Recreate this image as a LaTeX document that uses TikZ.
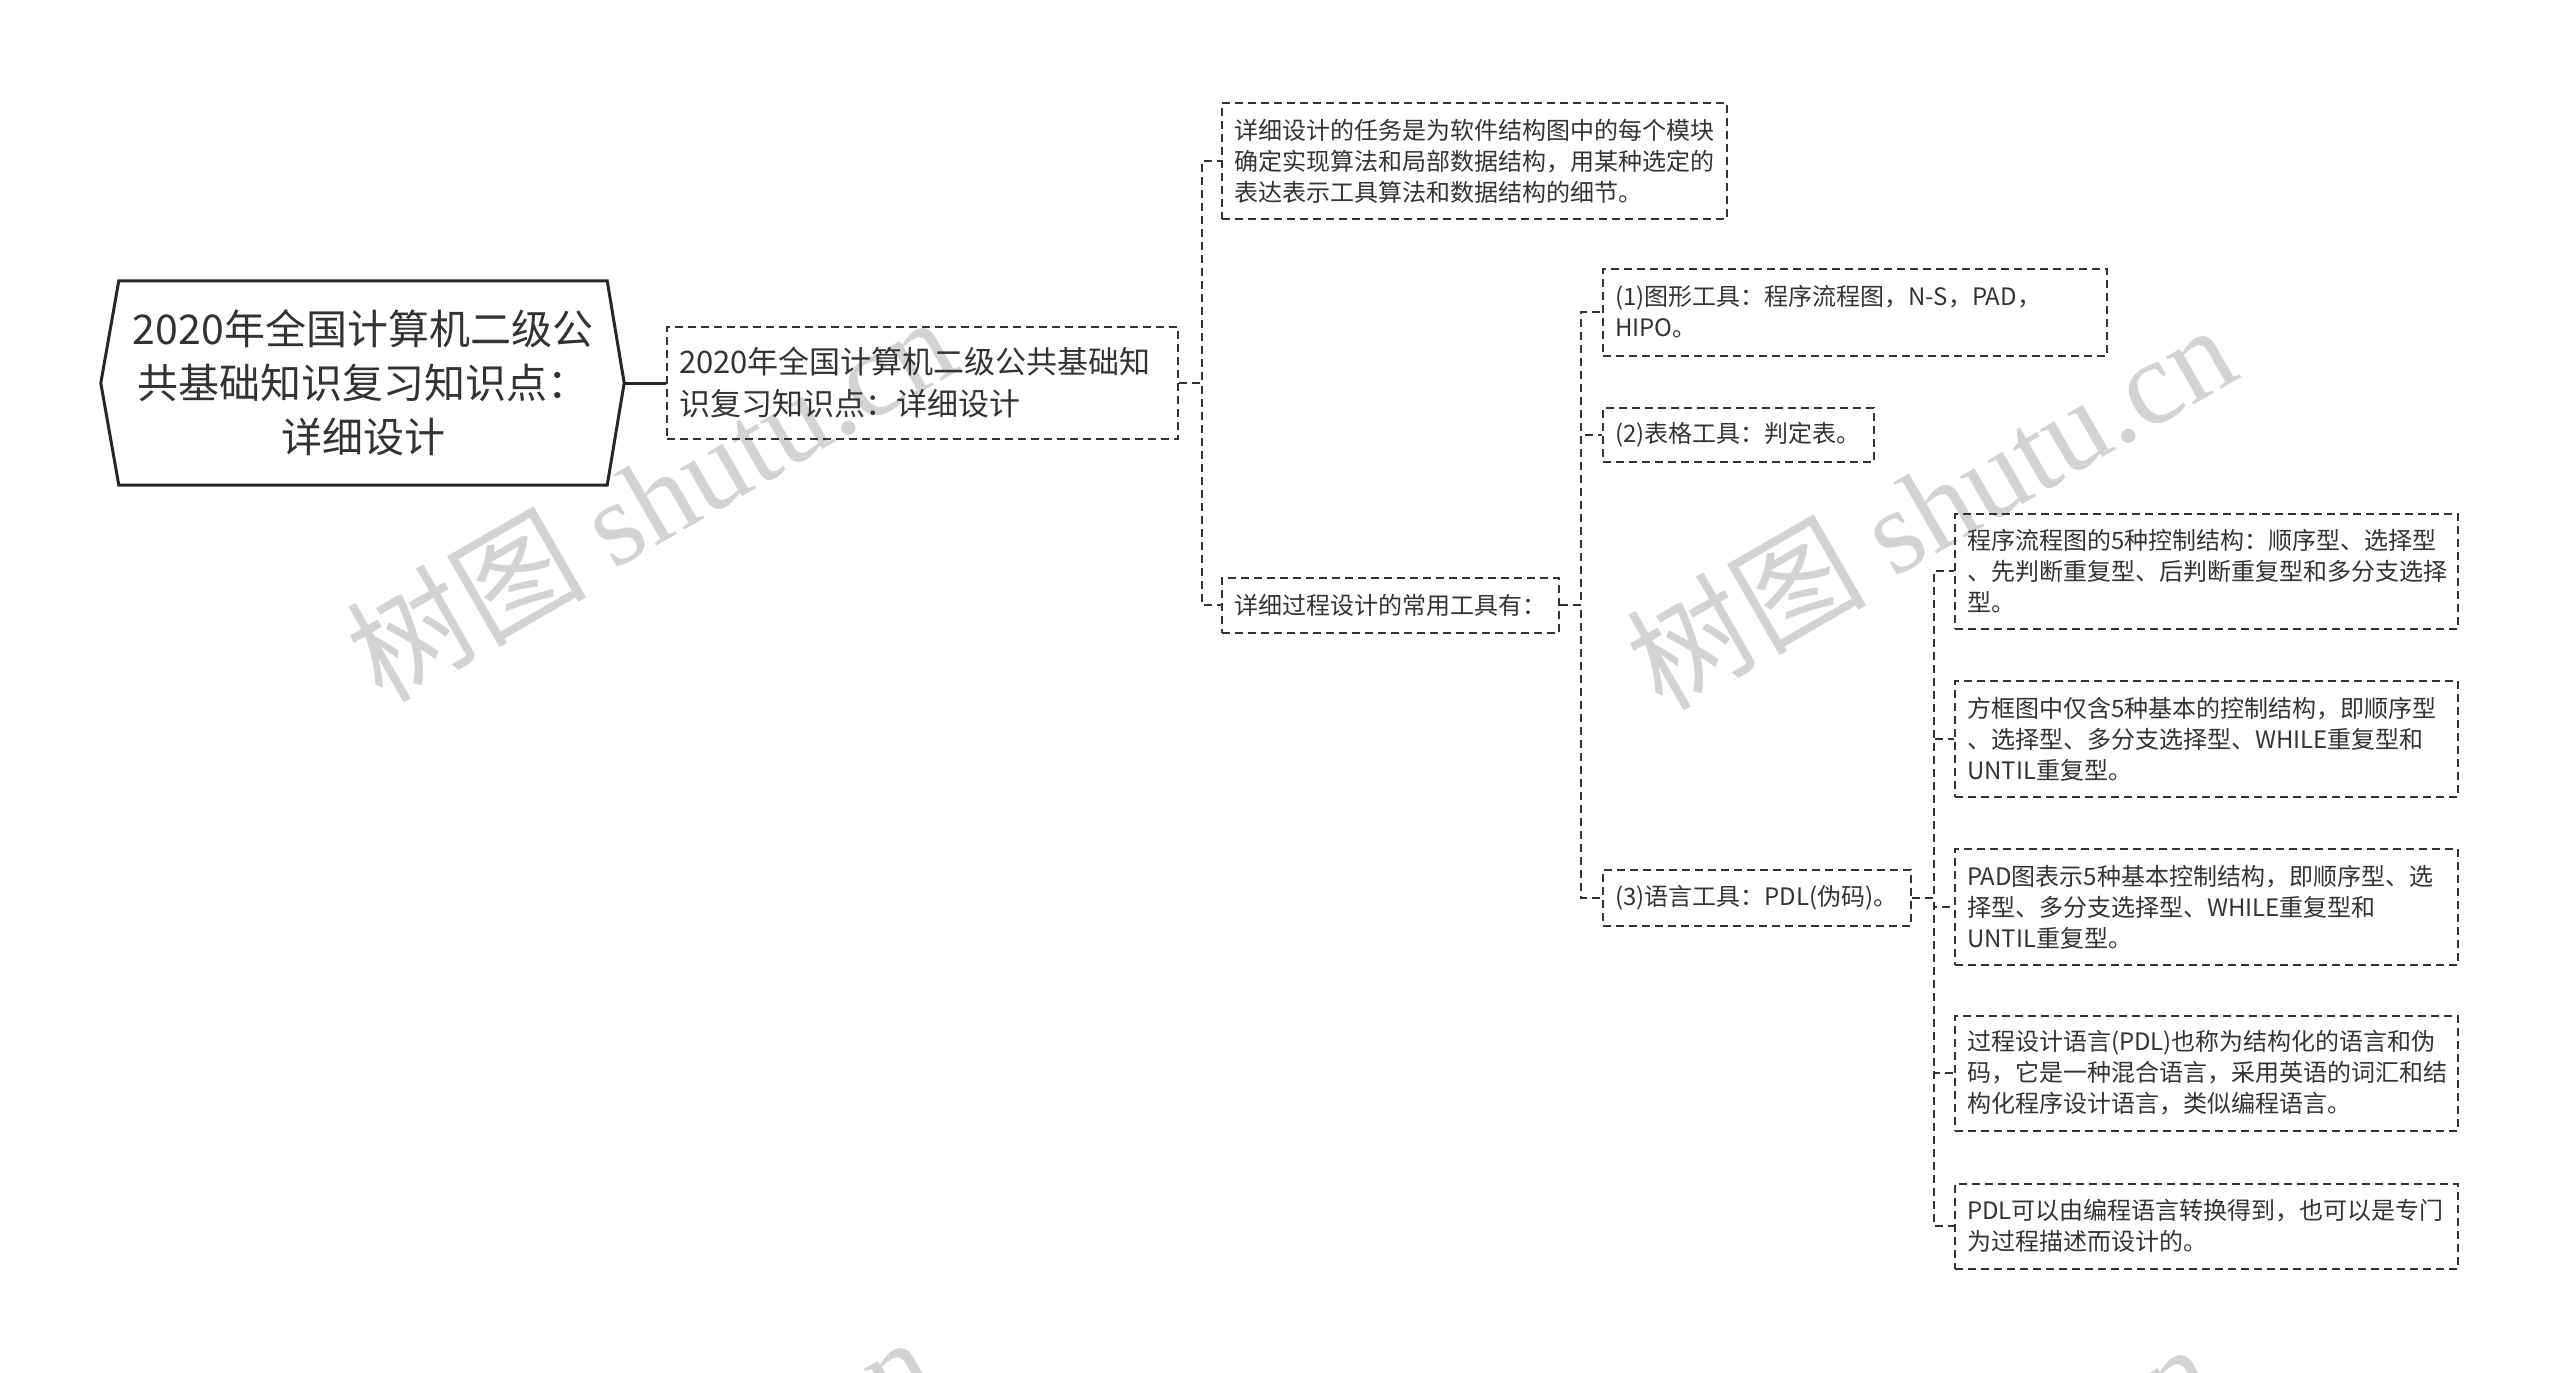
\documentclass[tikz,border=0pt]{standalone}
\usepackage{fontspec}
\setmainfont{Noto Sans CJK SC}
\newfontfamily\wmfont{Liberation Serif}
\definecolor{c33}{HTML}{333333}
\definecolor{wmgray}{HTML}{D3D3D3}
\tikzset{
  box/.style={draw=c33, line width=2pt, dash pattern=on 8pt off 5pt, inner xsep=12pt, inner ysep=0pt,
    anchor=west, align=left, text=c33, font=\fontsize{24}{31}\selectfont},
  conn/.style={draw=c33, line width=2pt, dash pattern=on 8pt off 5pt},
  rootline/.style={draw=black!85, line width=3pt},
  wm/.style={text=wmgray, font=\fontsize{120}{126}\selectfont, rotate=30, inner sep=0pt}
}
\begin{document}
\begin{tikzpicture}[x=1pt,y=-1pt]
\useasboundingbox (0,0) rectangle (2560,1373);
\begin{scope}
\clip (0,0) rectangle (2560,1373);
\node[wm] (wm1) at (650,497) {树图 {\wmfont shutu.cn}};
\node[wm] (wm2) at (1930,505) {树图 {\wmfont shutu.cn}};
\node[wm] (wm3) at (628,1517) {树图 {\wmfont shutu.cn}};
\node[wm] (wm4) at (1908,1524) {树图 {\wmfont shutu.cn}};
\end{scope}

% root
\node[align=center, text=c33, font=\fontsize{41}{54}\selectfont, minimum width=488, minimum height=204, inner sep=0pt] (root) at (363,383)
  {2020年全国计算机二级公\\共基础知识复习知识点：\\详细设计};
\draw[rootline, line join=miter] (root.north west) -- (root.north east) -- ([xshift=17pt]root.east) -- (root.south east)
  -- (root.south west) -- ([xshift=-18pt]root.west) -- cycle;

% level 1
\node[box, text width=487, minimum height=112, font=\fontsize{31}{42}\selectfont] (L1) at (666,383)
  {2020年全国计算机二级公共基础知\\识复习知识点：详细设计};

% level 2
\node[box, text width=481, minimum height=116] (A) at (1221,161)
  {详细设计的任务是为软件结构图中的每个模块\\确定实现算法和局部数据结构，用某种选定的\\表达表示工具算法和数据结构的细节。};
\node[box, text width=313, minimum height=55] (B) at (1221,605)
  {详细过程设计的常用工具有：};

% level 3
\node[box, text width=480, minimum height=87] (C1) at (1602,312)
  {(1)图形工具：程序流程图，N-S，PAD，\\HIPO。};
\node[box, text width=247, minimum height=54] (C2) at (1602,435)
  {(2)表格工具：判定表。};
\node[box, text width=284, minimum height=56] (C3) at (1602,898)
  {(3)语言工具：PDL(伪码)。};

% level 4
\node[box, text width=479, minimum height=115] (D1) at (1954,571)
  {程序流程图的5种控制结构：顺序型、选择型\\、先判断重复型、后判断重复型和多分支选择\\型。};
\node[box, text width=479, minimum height=116] (D2) at (1954,739)
  {方框图中仅含5种基本的控制结构，即顺序型\\、选择型、多分支选择型、WHILE重复型和\\UNTIL重复型。};
\node[box, text width=479, minimum height=116] (D3) at (1954,907)
  {PAD图表示5种基本控制结构，即顺序型、选\\择型、多分支选择型、WHILE重复型和\\UNTIL重复型。};
\node[box, text width=479, minimum height=115] (D4) at (1954,1073)
  {过程设计语言(PDL)也称为结构化的语言和伪\\码，它是一种混合语言，采用英语的词汇和结\\构化程序设计语言，类似编程语言。};
\node[box, text width=479, minimum height=85] (D5) at (1954,1226)
  {PDL可以由编程语言转换得到，也可以是专门\\为过程描述而设计的。};

% connectors
\draw[rootline] ([xshift=17pt]root.east) -- (L1.west);
\draw[conn] (L1.east) -- ++(23,0) |- (A.west);
\draw[conn] (L1.east) -- ++(23,0) |- (B.west);
\draw[conn] (B.east) -- ++(21,0) |- (C1.west);
\draw[conn] (B.east) -- ++(21,0) |- (C2.west);
\draw[conn] (B.east) -- ++(21,0) |- (C3.west);
\draw[conn] (C3.east) -- ++(22,0) |- (D1.west);
\draw[conn] (C3.east) -- ++(22,0) |- (D2.west);
\draw[conn] (C3.east) -- ++(22,0) |- (D3.west);
\draw[conn] (C3.east) -- ++(22,0) |- (D4.west);
\draw[conn] (C3.east) -- ++(22,0) |- (D5.west);
\end{tikzpicture}
\end{document}
